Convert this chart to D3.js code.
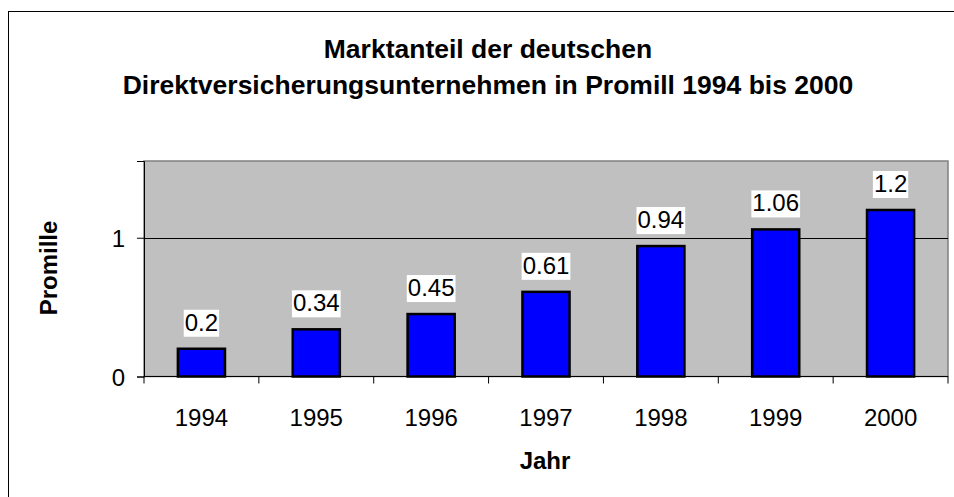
<!DOCTYPE html>
<html><head><meta charset="utf-8">
<script src="https://cdn.jsdelivr.net/npm/d3@7"></script>
<style>body{margin:0;background:#fff}svg{display:block}text{font-family:"Liberation Sans",Arial,sans-serif}</style>
</head><body><svg id="c" width="954" height="497"></svg>
<script>
const years = ["1994","1995","1996","1997","1998","1999","2000"];
const values = [0.2, 0.34, 0.45, 0.61, 0.94, 1.06, 1.2];
const yTicks = [0, 1];
const titleLines = ["Marktanteil der deutschen", "Direktversicherungsunternehmen in Promill 1994 bis 2000"];

const svg = d3.select("#c");
svg.append("rect").attr("x",8.5).attr("y",11.5).attr("width",960).attr("height",500)
  .attr("fill","#fff").attr("stroke","#000").attr("stroke-width",1);

const L=144, R=948, T=161, B=376.5;
const x = d3.scaleBand().domain(years).range([L,R]).paddingInner(0.59).paddingOuter(0.295);
const xc = d3.scaleBand().domain(years).range([L,R]);
const y = d3.scaleLinear().domain([0,1.553]).range([B,T]);

svg.append("rect").attr("x",L).attr("y",T).attr("width",R-L).attr("height",B-T)
  .attr("fill","#c0c0c0").attr("stroke","#808080").attr("stroke-width",1.5);

svg.append("g").selectAll("line").data(yTicks.filter(d=>d>0)).join("line")
  .attr("x1",L).attr("x2",R).attr("y1",d=>Math.round(y(d))+0.5).attr("y2",d=>Math.round(y(d))+0.5)
  .attr("stroke","#000").attr("stroke-width",1);

const ya = svg.append("g").attr("transform",`translate(${L},0)`)
  .call(d3.axisLeft(y).tickValues(yTicks).tickFormat(d3.format("d")).tickSize(7).tickPadding(12));
ya.select(".domain").attr("stroke","#000");
ya.selectAll("text").attr("font-size",24).attr("fill","#000").attr("dy","0.36em");

const xa = svg.append("g").attr("transform",`translate(0,${B})`);
xa.append("line").attr("x1",L).attr("x2",R).attr("y1",0).attr("y2",0).attr("stroke","#000");
const bounds = years.map(d=>xc(d)).concat([R]);
xa.selectAll("line.t").data(bounds).join("line").attr("class","t")
  .attr("x1",d=>d).attr("x2",d=>d).attr("y1",0).attr("y2",7).attr("stroke","#000");
xa.selectAll("text").data(years).join("text")
  .attr("x",d=>xc(d)+xc.bandwidth()/2).attr("y",49.5).attr("text-anchor","middle")
  .attr("font-size",24).attr("fill","#000").text(d=>d);

svg.append("g").selectAll("rect").data(values).join("rect")
  .attr("x",(d,i)=>x(years[i])).attr("width",x.bandwidth())
  .attr("y",d=>y(d)).attr("height",d=>B-y(d))
  .attr("fill","#0000ff").attr("stroke","#000").attr("stroke-width",2.5);

const lg = svg.append("g").selectAll("g").data(values).join("g")
  .attr("transform",(d,i)=>`translate(${xc(years[i])+xc.bandwidth()/2},${y(d)-18})`);
lg.append("text").attr("text-anchor","middle").attr("font-size",24).attr("fill","#000")
  .text(d=>String(d)).each(function(){
    const b=this.getBBox();
    d3.select(this.parentNode).insert("rect","text").attr("x",b.x-1).attr("y",b.y+1)
      .attr("width",b.width+2).attr("height",b.height).attr("fill","#fff");
  });

svg.append("g").selectAll("text").data(titleLines).join("text")
  .attr("x",488).attr("y",(d,i)=>58+i*36).attr("text-anchor","middle")
  .attr("font-size",26.5).attr("font-weight","bold").attr("fill","#000").text(d=>d);
svg.append("text").attr("x",545).attr("y",469).attr("text-anchor","middle")
  .attr("font-size",24).attr("font-weight","bold").text("Jahr");
svg.append("text").attr("transform","translate(57,268) rotate(-90)").attr("text-anchor","middle")
  .attr("font-size",24).attr("font-weight","bold").text("Promille");
</script></body></html>
